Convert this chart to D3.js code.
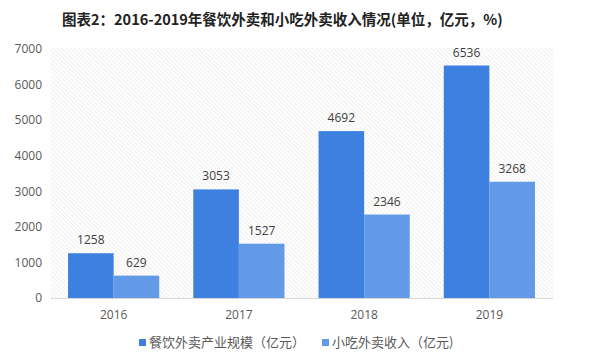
<!DOCTYPE html>
<html><head><meta charset="utf-8">
<script src="https://cdn.jsdelivr.net/npm/d3@7/dist/d3.min.js"></script>
<style>body{margin:0;background:#fff;}svg{display:block;font-family:"Noto Sans CJK SC","Noto Sans",sans-serif;}</style>
</head><body>
<svg id="c" width="600" height="355"></svg>
<script>
const categories = ["2016","2017","2018","2019"];
const seriesNames = ["餐饮外卖产业规模（亿元）","小吃外卖收入（亿元)"];
const takeout = [1258,3053,4692,6536];
const snack = [629,1527,2346,3268];
const yTicks = [0,1000,2000,3000,4000,5000,6000,7000];
const colors = ["#3d80e0","#629ae8"];
const title = "图表2：2016-2019年餐饮外卖和小吃外卖收入情况(单位，亿元，%)";

const svg = d3.select("#c");
const m = {l:51, r:48, t:49, b:57};
const W = 600, H = 355;
const x = d3.scaleBand().domain(categories).range([m.l, W - m.r]).paddingInner(0.272).paddingOuter(0.136);
const x1 = d3.scaleBand().domain([0,1]).range([0, x.bandwidth()]);
const y = d3.scaleLinear().domain([0,7000]).range([H - m.b, m.t]);

// hatch pattern background
const defs = svg.append("defs");
const pat = defs.append("pattern").attr("id","hatch").attr("patternUnits","userSpaceOnUse")
  .attr("width",3).attr("height",3).attr("patternTransform","rotate(-45)");
pat.append("line").attr("x1",0).attr("y1",0).attr("x2",0).attr("y2",3)
  .attr("stroke","#e4e4e4").attr("stroke-width",1.2);
svg.append("rect").attr("x",m.l).attr("y",y(7000)-1).attr("width",W-m.r-m.l+1).attr("height",y(0)-y(7000)+1)
  .attr("fill","url(#hatch)");

// title
svg.append("text").attr("x",62).attr("y",25).attr("font-size",14.5).attr("font-weight","bold")
  .attr("fill","#222").text(title);

// y axis
const ya = svg.append("g").attr("transform",`translate(${m.l},0)`)
  .call(d3.axisLeft(y).tickValues(yTicks).tickSize(0).tickPadding(9).tickFormat(d3.format("d")));
ya.select(".domain").remove();
ya.selectAll("text").attr("font-size",12).attr("fill","#595959").attr("font-family","'Open Sans','Noto Sans',sans-serif");

// baseline
svg.append("line").attr("x1",m.l).attr("x2",W-m.r+1).attr("y1",y(0)+0.5).attr("y2",y(0)+0.5)
  .attr("stroke","#d9d9d9").attr("stroke-width",1);

// bars
const series = [takeout, snack];
series.forEach((vals,si)=>{
  const g = svg.append("g");
  g.selectAll("rect").data(vals).join("rect")
    .attr("x",(d,i)=>x(categories[i])+x1(si)).attr("width",x1.bandwidth())
    .attr("y",d=>y(d)).attr("height",d=>y(0)-y(d)).attr("fill",colors[si]);
  g.selectAll("text").data(vals).join("text")
    .attr("x",(d,i)=>x(categories[i])+x1(si)+x1.bandwidth()/2).attr("y",d=>y(d)-9)
    .attr("text-anchor","middle").attr("font-size",12).attr("fill","#404040")
    .attr("font-family","'Open Sans','Noto Sans',sans-serif").text(d=>d);
});

// x axis
const xa = svg.append("g").attr("transform",`translate(0,${y(0)})`)
  .call(d3.axisBottom(x).tickSize(0).tickPadding(12));
xa.select(".domain").remove();
xa.selectAll("text").attr("font-size",12).attr("fill","#595959").attr("font-family","'Open Sans','Noto Sans',sans-serif");

// legend
const legX = [139, 322];
seriesNames.forEach((n,i)=>{
  svg.append("rect").attr("x",legX[i]).attr("y",339).attr("width",7).attr("height",7).attr("fill",colors[i]);
  svg.append("text").attr("x",legX[i]+10).attr("y",347).attr("font-size",13).attr("fill","#595959").text(n);
});
</script>
</body></html>
